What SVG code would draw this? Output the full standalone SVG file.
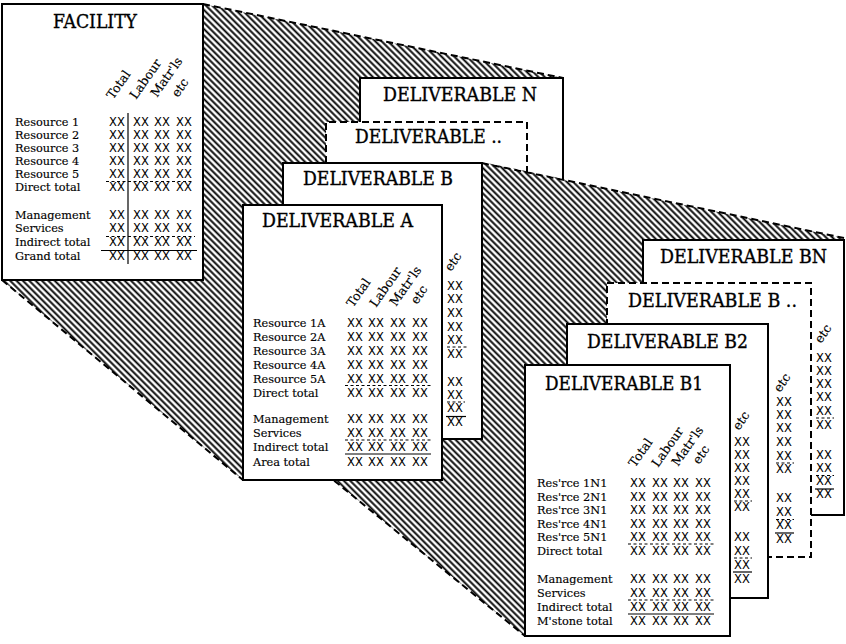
<svg xmlns="http://www.w3.org/2000/svg" width="846" height="644" viewBox="0 0 846 644">
<defs>
<pattern id="hatch" patternUnits="userSpaceOnUse" width="4.5" height="10" patternTransform="rotate(-45)">
<rect width="4.5" height="10" fill="#fff"/>
<rect x="1.25" width="1.9" height="10" fill="#000"/>
</pattern>
</defs>
<style>
.card{fill:#fff;stroke:#000;stroke-width:2}
.dcard{fill:#fff;stroke:#000;stroke-width:2;stroke-dasharray:7 4}
.wf{fill:#fff;stroke:none}
.edge{fill:none;stroke:#000;stroke-width:2}
.dedge{fill:none;stroke:#000;stroke-width:2;stroke-dasharray:7 4}
.region{fill:url(#hatch)}
.proj{fill:none;stroke:#000;stroke-width:2;stroke-dasharray:7 4}
.t{font-family:"DejaVu Serif","Liberation Serif",serif;font-size:18px;fill:#000;stroke:#000;stroke-width:0.35}
.l{font-family:"DejaVu Serif","Liberation Serif",serif;font-size:11.3px;fill:#000;stroke:#000;stroke-width:0.15}
.h{font-family:"DejaVu Serif","Liberation Serif",serif;font-size:12.5px;fill:#000;stroke:#000;stroke-width:0.15}
.x{font-family:"DejaVu Sans","Liberation Sans",sans-serif;font-size:11.5px;fill:#000}
.xc{font-family:"DejaVu Sans","Liberation Sans",sans-serif;font-size:11.5px;fill:#000;text-anchor:middle}
.rl{stroke:#000;stroke-width:1.2;fill:none}
.dl{stroke:#000;stroke-width:1.2;stroke-dasharray:3 2.5;fill:none}
</style>
<rect width="846" height="644" fill="#fff"/>

<g id="connectors">
<polygon class="region" points="2,4 203,4 563,78 563,480 243,480 2,280"/>
<polygon class="region" points="283,163 482,163 844,238 844,515 811,515 811,557 768,557 768,598 730,598 730,636 525,636 283,439"/>
<line class="proj" x1="203" y1="4" x2="563" y2="78"/>
<line class="proj" x1="2" y1="280" x2="243" y2="480"/>
<line class="proj" x1="482" y1="163" x2="844" y2="238"/>
<line class="proj" x1="283" y1="439" x2="525" y2="636"/>
</g>

<g id="facility">
<rect class="card" x="2" y="4" width="201" height="276"/>
<text class="t" x="53" y="28" textLength="84" lengthAdjust="spacingAndGlyphs">FACILITY</text>
<g class="h">
<text transform="translate(113,100) rotate(-55)">Total</text>
<text transform="translate(136,100) rotate(-55)">Labour</text>
<text transform="translate(157,98) rotate(-55)">Matr'ls</text>
<text transform="translate(178,98) rotate(-55)">etc</text>
</g>
<g class="l">
<text x="15" y="126">Resource 1</text>
<text x="15" y="139">Resource 2</text>
<text x="15" y="152">Resource 3</text>
<text x="15" y="165">Resource 4</text>
<text x="15" y="178">Resource 5</text>
<text x="15" y="191">Direct total</text>
<text x="15" y="219">Management</text>
<text x="15" y="232">Services</text>
<text x="15" y="246">Indirect total</text>
<text x="15" y="260">Grand total</text>
</g>
<g class="x">
<text x="109.1 117 125 133.1 141 150 154.1 162 170 176.1 184" y="126">XX XX XX XX</text>
<text x="109.1 117 125 133.1 141 150 154.1 162 170 176.1 184" y="139">XX XX XX XX</text>
<text x="109.1 117 125 133.1 141 150 154.1 162 170 176.1 184" y="152">XX XX XX XX</text>
<text x="109.1 117 125 133.1 141 150 154.1 162 170 176.1 184" y="165">XX XX XX XX</text>
<text x="109.1 117 125 133.1 141 150 154.1 162 170 176.1 184" y="178">XX XX XX XX</text>
<text x="109.1 117 125 133.1 141 150 154.1 162 170 176.1 184" y="191">XX XX XX XX</text>
<text x="109.1 117 125 133.1 141 150 154.1 162 170 176.1 184" y="219">XX XX XX XX</text>
<text x="109.1 117 125 133.1 141 150 154.1 162 170 176.1 184" y="232">XX XX XX XX</text>
<text x="109.1 117 125 133.1 141 150 154.1 162 170 176.1 184" y="246">XX XX XX XX</text>
<text x="109.1 117 125 133.1 141 150 154.1 162 170 176.1 184" y="260">XX XX XX XX</text>
</g>
<line class="rl" x1="128" y1="113" x2="128" y2="264"/>
<line class="dl" x1="106" y1="181.5" x2="194" y2="181.5"/>
<line class="dl" x1="106" y1="236.5" x2="195" y2="236.5"/>
<line class="rl" x1="101" y1="250.5" x2="197" y2="250.5"/>
</g>

<g id="deliverable-n">
<polygon class="wf" points="360,78 563,78 563,178.8 527,171.3 527,122 360,122"/>
<path class="edge" d="M360,122 V78 H563 V179.8"/>
<text class="t" x="383" y="101" textLength="154" lengthAdjust="spacingAndGlyphs">DELIVERABLE N</text>
</g>

<g id="deliverable-dots">
<polygon class="wf" points="326,122 527,122 527,171.3 482,162 326,163"/>
<path class="dedge" d="M326,163 V122 H527 V172.3"/>
<text class="t" x="355" y="143" textLength="147" lengthAdjust="spacingAndGlyphs">DELIVERABLE ..</text>
</g>

<g id="deliverable-b">
<rect class="card" x="283" y="163" width="199" height="276"/>
<text class="t" x="303" y="185" textLength="150" lengthAdjust="spacingAndGlyphs">DELIVERABLE B</text>
<text class="h" transform="translate(451,272) rotate(-55)">etc</text>
<g class="xc">
<text x="455" y="290">XX</text><text x="455" y="303">XX</text><text x="455" y="317">XX</text>
<text x="455" y="331">XX</text><text x="455" y="344">XX</text><text x="455" y="358">XX</text>
<text x="455" y="386">XX</text><text x="455" y="399">XX</text><text x="455" y="412">XX</text>
<text x="455" y="426">XX</text>
</g>
<line class="dl" x1="447" y1="347" x2="469" y2="347"/>
<line class="dl" x1="447" y1="402" x2="465" y2="402"/>
<line class="rl" x1="446" y1="416.5" x2="466" y2="416.5"/>
</g>

<g id="deliverable-a">
<rect class="card" x="243" y="205" width="199" height="275"/>
<text class="t" x="262" y="227" textLength="151" lengthAdjust="spacingAndGlyphs">DELIVERABLE A</text>
<g class="h">
<text transform="translate(353,308) rotate(-55)">Total</text>
<text transform="translate(376,308) rotate(-55)">Labour</text>
<text transform="translate(396,307) rotate(-55)">Matr'ls</text>
<text transform="translate(417,305) rotate(-55)">etc</text>
</g>
<g class="l">
<text x="253" y="327">Resource 1A</text>
<text x="253" y="341">Resource 2A</text>
<text x="253" y="355">Resource 3A</text>
<text x="253" y="369">Resource 4A</text>
<text x="253" y="383">Resource 5A</text>
<text x="253" y="397">Direct total</text>
<text x="253" y="423">Management</text>
<text x="253" y="437">Services</text>
<text x="253" y="451">Indirect total</text>
<text x="253" y="466">Area total</text>
</g>
<g class="x">
<text x="347.1 355 363 368.1 376 385 390.1 398 406 412.1 420" y="327">XX XX XX XX</text>
<text x="347.1 355 363 368.1 376 385 390.1 398 406 412.1 420" y="341">XX XX XX XX</text>
<text x="347.1 355 363 368.1 376 385 390.1 398 406 412.1 420" y="355">XX XX XX XX</text>
<text x="347.1 355 363 368.1 376 385 390.1 398 406 412.1 420" y="369">XX XX XX XX</text>
<text x="347.1 355 363 368.1 376 385 390.1 398 406 412.1 420" y="383">XX XX XX XX</text>
<text x="347.1 355 363 368.1 376 385 390.1 398 406 412.1 420" y="397">XX XX XX XX</text>
<text x="347.1 355 363 368.1 376 385 390.1 398 406 412.1 420" y="423">XX XX XX XX</text>
<text x="347.1 355 363 368.1 376 385 390.1 398 406 412.1 420" y="437">XX XX XX XX</text>
<text x="347.1 355 363 368.1 376 385 390.1 398 406 412.1 420" y="451">XX XX XX XX</text>
<text x="347.1 355 363 368.1 376 385 390.1 398 406 412.1 420" y="466">XX XX XX XX</text>
</g>
<line class="dl" x1="345" y1="385.5" x2="432" y2="385.5"/>
<line class="dl" x1="345" y1="440" x2="431" y2="440"/>
<line class="rl" x1="345" y1="454" x2="431" y2="454"/>
</g>

<g id="deliverable-bn">
<rect class="card" x="643" y="240" width="201" height="275"/>
<text class="t" x="660" y="263" textLength="167" lengthAdjust="spacingAndGlyphs">DELIVERABLE BN</text>
<text class="h" transform="translate(821,344) rotate(-55)">etc</text>
<g class="xc">
<text x="824" y="362">XX</text><text x="824" y="375">XX</text><text x="824" y="388">XX</text>
<text x="824" y="401">XX</text><text x="824" y="415">XX</text><text x="824" y="429">XX</text>
<text x="824" y="459">XX</text><text x="824" y="472">XX</text><text x="824" y="485">XX</text>
<text x="824" y="498">XX</text>
</g>
<line class="dl" x1="816" y1="418" x2="834" y2="418"/>
<line class="dl" x1="816" y1="475.5" x2="834" y2="475.5"/>
<line class="rl" x1="815" y1="489" x2="834" y2="489"/>
</g>

<g id="deliverable-b-dots">
<rect class="dcard" x="607" y="283" width="204" height="274"/>
<text class="t" x="628" y="307" textLength="169" lengthAdjust="spacingAndGlyphs">DELIVERABLE B ..</text>
<text class="h" transform="translate(780,393) rotate(-55)">etc</text>
<g class="xc">
<text x="784" y="406">XX</text><text x="784" y="419">XX</text><text x="784" y="432">XX</text>
<text x="784" y="446">XX</text><text x="784" y="460">XX</text><text x="784" y="473">XX</text>
<text x="784" y="502">XX</text><text x="784" y="516">XX</text><text x="784" y="529">XX</text>
<text x="784" y="543">XX</text>
</g>
<line class="dl" x1="776" y1="463" x2="794" y2="463"/>
<line class="dl" x1="776" y1="519.5" x2="794" y2="519.5"/>
<line class="rl" x1="775" y1="533" x2="794" y2="533"/>
</g>

<g id="deliverable-b2">
<rect class="card" x="567" y="324" width="201" height="274"/>
<text class="t" x="587" y="348" textLength="161" lengthAdjust="spacingAndGlyphs">DELIVERABLE B2</text>
<text class="h" transform="translate(739,431) rotate(-55)">etc</text>
<g class="xc">
<text x="742" y="446">XX</text><text x="742" y="459">XX</text><text x="742" y="472">XX</text>
<text x="742" y="485">XX</text><text x="742" y="498">XX</text><text x="742" y="511">XX</text>
<text x="742" y="541">XX</text><text x="742" y="555">XX</text><text x="742" y="569">XX</text>
<text x="742" y="583">XX</text>
</g>
<line class="dl" x1="734" y1="501" x2="752" y2="501"/>
<line class="dl" x1="734" y1="558" x2="752" y2="558"/>
<line class="rl" x1="733" y1="572" x2="752" y2="572"/>
</g>

<g id="deliverable-b1">
<rect class="card" x="525" y="365" width="205" height="271"/>
<text class="t" x="545" y="390" textLength="158" lengthAdjust="spacingAndGlyphs">DELIVERABLE B1</text>
<g class="h">
<text transform="translate(635,468) rotate(-55)">Total</text>
<text transform="translate(658,468) rotate(-55)">Labour</text>
<text transform="translate(678,467) rotate(-55)">Matr'ls</text>
<text transform="translate(699,465) rotate(-55)">etc</text>
</g>
<g class="l">
<text x="537" y="487">Res'rce 1N1</text>
<text x="537" y="501">Res'rce 2N1</text>
<text x="537" y="514">Res'rce 3N1</text>
<text x="537" y="528">Res'rce 4N1</text>
<text x="537" y="541">Res'rce 5N1</text>
<text x="537" y="555">Direct total</text>
<text x="537" y="583">Management</text>
<text x="537" y="597">Services</text>
<text x="537" y="611">Indirect total</text>
<text x="537" y="625">M'stone total</text>
</g>
<g class="x">
<text x="630.1 638 646 652.1 660 668 673.1 681 689 695.1 703" y="487">XX XX XX XX</text>
<text x="630.1 638 646 652.1 660 668 673.1 681 689 695.1 703" y="501">XX XX XX XX</text>
<text x="630.1 638 646 652.1 660 668 673.1 681 689 695.1 703" y="514">XX XX XX XX</text>
<text x="630.1 638 646 652.1 660 668 673.1 681 689 695.1 703" y="528">XX XX XX XX</text>
<text x="630.1 638 646 652.1 660 668 673.1 681 689 695.1 703" y="541">XX XX XX XX</text>
<text x="630.1 638 646 652.1 660 668 673.1 681 689 695.1 703" y="555">XX XX XX XX</text>
<text x="630.1 638 646 652.1 660 668 673.1 681 689 695.1 703" y="583">XX XX XX XX</text>
<text x="630.1 638 646 652.1 660 668 673.1 681 689 695.1 703" y="597">XX XX XX XX</text>
<text x="630.1 638 646 652.1 660 668 673.1 681 689 695.1 703" y="611">XX XX XX XX</text>
<text x="630.1 638 646 652.1 660 668 673.1 681 689 695.1 703" y="625">XX XX XX XX</text>
</g>
<line class="dl" x1="628" y1="544" x2="714" y2="544"/>
<line class="dl" x1="628" y1="600" x2="714" y2="600"/>
<line class="rl" x1="628" y1="614" x2="714" y2="614"/>
</g>
</svg>
